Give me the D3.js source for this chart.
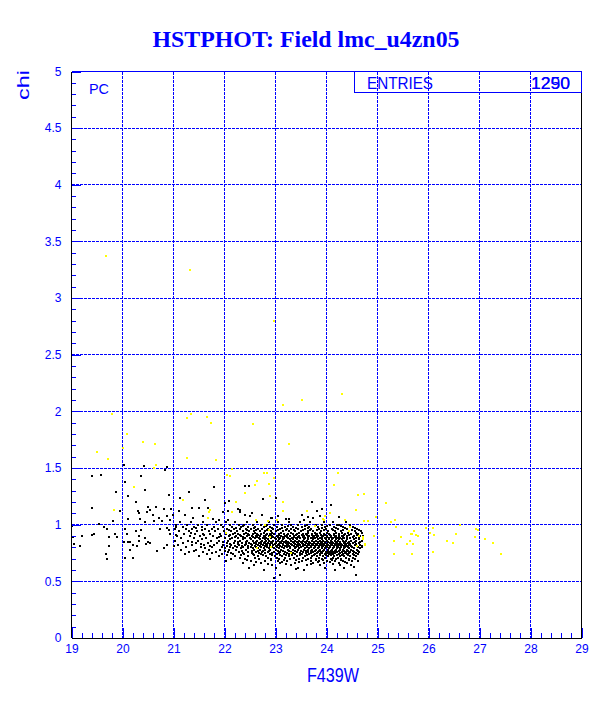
<!DOCTYPE html>
<html><head><meta charset="utf-8">
<script src="https://cdn.jsdelivr.net/npm/d3@7/dist/d3.min.js"></script>
<style>body{margin:0;background:#fff}</style>
</head><body>
<svg id="c" width="612" height="709"></svg>
<script>
// ---------- data ----------
const titleText = "HSTPHOT: Field lmc_u4zn05";
const xTitle = "F439W";
const yTitle = "chi";
const xTicks = [19,20,21,22,23,24,25,26,27,28,29];
const yTicks = [0,0.5,1,1.5,2,2.5,3,3.5,4,4.5,5];
const yTickLabels = ["0","0.5","1","1.5","2","2.5","3","3.5","4","4.5","5"];
const statLabel = "ENTRIES";
const statValues = ["1290","1250"];
const optLabel = "PC";

// sparse black points [F439W, chi]
const blackSparse = [
[20.02,1.53],[20.42,1.52],[20.87,1.51],[20.83,1.48],[19.41,1.43],[19.57,1.44],[20.37,1.43],[20.04,1.38],[20.44,1.31],[19.87,1.29],
[20.11,1.25],[20.91,1.26],[20.27,1.20],[20.50,1.16],[20.66,1.16],[19.40,1.15],[19.96,1.12],[20.30,1.12],[20.32,1.10],[20.48,1.11],
[20.54,1.13],[20.81,1.14],[20.96,1.14],[20.60,1.09],[20.72,1.06],[20.88,1.08],[20.93,1.04],[20.99,1.09],[20.11,1.05],[20.34,1.05],
[19.81,1.03],[19.53,1.01],[20.45,1.02],[20.62,1.03],[20.78,1.03],[19.64,0.98],[19.70,0.96],[19.00,0.99],[20.05,0.96],[20.36,0.95],
[20.26,0.94],[20.73,0.96],[20.87,0.97],[20.91,0.95],[21.04,0.98],[19.85,0.92],[19.45,0.92],[19.40,0.91],[19.73,0.89],[19.90,0.89],
[20.09,0.92],[20.32,0.90],[20.45,0.88],[19.03,0.89],[19.21,0.90],[20.11,0.85],[20.03,0.85],[20.14,0.85],[20.32,0.86],[20.50,0.85],
[20.54,0.84],[20.93,0.92],[21.04,0.91],[19.05,0.83],[19.17,0.81],[19.74,0.81],[20.21,0.82],[20.28,0.81],[20.46,0.83],[20.87,0.82],
[21.01,0.81],[20.15,0.78],[20.68,0.77],[20.81,0.79],[19.68,0.74],[19.70,0.70],[20.05,0.71],[20.20,0.71],
[21.79,1.33],[21.30,1.29],[22.40,1.34],[22.48,1.34],[22.00,1.19],[21.62,1.22],[22.75,1.23],[22.27,1.14],[21.11,1.12],[21.37,1.15],
[21.50,1.15],[21.68,1.15],[21.98,1.11],[22.06,1.12],[22.31,1.11],[22.40,1.09],[22.53,1.10],[22.74,1.09],[22.91,1.06],[21.57,1.08],
[21.22,1.09],[21.39,1.06],[21.78,1.05],[21.89,1.04],[22.07,1.04],[21.12,1.24],[22.08,1.21],[22.30,1.13],[23.91,1.14],[23.27,1.05],
[23.04,1.08],[23.52,1.09],[23.64,1.07],[23.82,1.12],[24.25,1.07],[22.50,1.08],[22.93,1.06],[23.01,1.24],[23.71,1.20],[24.09,1.17],
[23.21,1.05],[23.55,1.04],[23.74,1.06],[23.87,1.08],[24.20,1.00],
[22.97,0.53],[23.09,0.56],[24.58,0.56],[23.41,0.61],[24.53,0.63]
];

// dense black band, read row by row: chi value and the F439W values on that row
const bandChi = [1.02,1.00,0.98,0.96,0.94,0.92,0.90,0.88,0.86,0.84,0.82,0.80,0.78,0.76,0.74,0.72,0.70,0.68,0.66,0.64,0.62,0.60];
const bandF439W = [
[21.12,21.35,21.58,21.84,22.02,22.21,22.44,22.63,22.87,23.05,23.26,23.49,23.68,23.95,24.12,24.38],
[21.05,21.27,21.48,21.66,21.93,22.10,22.28,22.39,22.55,22.71,22.84,22.98,23.12,23.30,23.44,23.61,23.79,23.92,24.06,24.25,24.47],
[21.18,21.41,21.55,21.79,21.97,22.15,22.33,22.46,22.60,22.77,22.90,23.03,23.18,23.35,23.52,23.66,23.83,23.97,24.15,24.33,24.52],
[21.02,21.24,21.37,21.62,21.75,21.88,22.05,22.19,22.30,22.42,22.52,22.66,22.74,22.86,22.95,23.08,23.22,23.31,23.45,23.57,23.70,23.86,23.99,24.10,24.22,24.41,24.60],
[21.10,21.30,21.46,21.69,21.82,21.99,22.12,22.25,22.36,22.49,22.58,22.69,22.80,22.92,23.00,23.14,23.27,23.39,23.50,23.63,23.74,23.90,24.03,24.17,24.28,24.44,24.56,24.68],
[21.21,21.43,21.58,21.71,21.91,22.03,22.16,22.27,22.38,22.47,22.56,22.63,22.72,22.83,22.89,22.97,23.06,23.16,23.24,23.34,23.43,23.54,23.60,23.72,23.81,23.95,24.05,24.14,24.24,24.36,24.49,24.62],
[21.07,21.33,21.52,21.77,21.94,22.08,22.22,22.33,22.44,22.53,22.61,22.70,22.78,22.87,22.94,23.02,23.11,23.19,23.28,23.37,23.47,23.56,23.66,23.76,23.84,23.93,24.01,24.09,24.19,24.30,24.40,24.53,24.65,24.72],
[21.15,21.40,21.63,21.85,22.00,22.14,22.26,22.40,22.50,22.59,22.67,22.76,22.82,22.91,22.99,23.09,23.17,23.25,23.33,23.41,23.49,23.58,23.69,23.78,23.88,23.97,24.04,24.13,24.21,24.27,24.35,24.46,24.58],
[21.03,21.28,21.49,21.73,21.90,22.06,22.20,22.31,22.45,22.55,22.64,22.73,22.81,22.88,22.96,23.04,23.13,23.21,23.30,23.38,23.46,23.53,23.62,23.71,23.80,23.87,23.94,24.00,24.08,24.16,24.23,24.32,24.39,24.48,24.57,24.69],
[21.19,21.45,21.67,21.86,22.04,22.18,22.35,22.48,22.57,22.68,22.77,22.85,22.93,23.01,23.10,23.20,23.26,23.36,23.44,23.51,23.59,23.67,23.75,23.83,23.91,23.98,24.06,24.12,24.20,24.26,24.34,24.43,24.51,24.63],
[21.09,21.36,21.60,21.80,21.98,22.13,22.29,22.41,22.54,22.65,22.75,22.84,22.95,23.05,23.15,23.23,23.32,23.42,23.48,23.57,23.65,23.73,23.82,23.89,23.96,24.02,24.10,24.18,24.25,24.31,24.37,24.45,24.55,24.66],
[21.25,21.53,21.76,21.96,22.11,22.24,22.37,22.51,22.62,22.71,22.83,22.94,23.03,23.12,23.22,23.29,23.40,23.50,23.61,23.70,23.77,23.85,23.92,24.00,24.07,24.14,24.22,24.29,24.36,24.42,24.50,24.61,24.70],
[21.14,21.44,21.70,21.92,22.09,22.23,22.43,22.58,22.69,22.79,22.90,23.00,23.11,23.24,23.35,23.45,23.55,23.64,23.72,23.80,23.88,23.95,24.03,24.11,24.19,24.27,24.33,24.41,24.48,24.59],
[21.31,21.57,21.83,22.07,22.28,22.46,22.61,22.74,22.86,22.98,23.09,23.19,23.31,23.43,23.54,23.63,23.74,23.84,23.90,23.99,24.05,24.13,24.21,24.30,24.38,24.46,24.54,24.64],
[21.22,21.65,21.95,22.17,22.39,22.56,22.72,22.89,23.02,23.16,23.27,23.38,23.52,23.66,23.78,23.87,23.97,24.04,24.12,24.24,24.32,24.40,24.52,24.61],
[21.50,21.89,22.21,22.47,22.66,22.82,22.99,23.13,23.26,23.42,23.58,23.71,23.82,23.93,24.02,24.15,24.26,24.35,24.47,24.57],
[21.72,22.12,22.41,22.68,22.91,23.07,23.29,23.47,23.64,23.79,23.91,24.08,24.18,24.29,24.44,24.55],
[22.03,22.52,22.80,23.04,23.23,23.51,23.69,23.86,24.00,24.17,24.33,24.50,24.62],
[22.36,22.72,23.08,23.39,23.74,23.96,24.24,24.41],
[22.58,22.94,23.30,23.62,23.88,24.27,24.48],
[22.49,23.00,23.44,23.97,24.34],
[22.78,23.55,24.17]
];
// in-between rows of the dense band
const bandChiB = [0.99,0.97,0.95,0.93,0.91,0.89,0.87,0.85,0.83,0.81,0.79,0.77,0.75,0.73,0.71,0.69,0.67,0.65];
const bandF439WB = [
[22.36,22.81,23.24,23.57,24.01,24.29],
[21.45,22.23,22.58,22.93,23.13,23.40,23.63,23.91,24.19,24.36,24.55],
[21.56,22.09,22.44,22.62,22.84,23.05,23.20,23.36,23.53,23.68,23.82,23.96,24.12,24.33,24.50,24.63],
[21.35,22.20,22.42,22.60,22.77,22.93,23.10,23.30,23.47,23.64,23.77,23.88,24.00,24.19,24.31,24.43,24.57,24.70],
[21.60,22.10,22.30,22.49,22.65,22.81,22.91,23.07,23.23,23.40,23.52,23.61,23.71,23.80,23.89,23.98,24.06,24.15,24.25,24.34,24.45,24.59],
[21.90,22.20,22.37,22.55,22.63,22.79,22.95,23.05,23.14,23.22,23.36,23.45,23.53,23.63,23.73,23.82,23.92,24.00,24.08,24.17,24.24,24.33,24.41,24.52,24.64],
[21.55,22.11,22.36,22.52,22.70,22.79,22.86,23.00,23.07,23.15,23.28,23.35,23.43,23.55,23.64,23.74,23.83,23.92,23.99,24.05,24.11,24.18,24.25,24.30,24.41,24.53,24.63],
[21.37,21.98,22.27,22.42,22.61,22.72,22.79,22.91,23.00,23.08,23.17,23.25,23.34,23.42,23.50,23.57,23.66,23.76,23.84,23.90,23.97,24.03,24.10,24.19,24.27,24.36,24.44,24.55,24.66],
[21.54,22.10,22.26,22.43,22.52,22.62,22.72,22.81,22.89,22.99,23.06,23.14,23.24,23.30,23.39,23.46,23.54,23.63,23.71,23.79,23.87,23.94,24.01,24.08,24.16,24.22,24.29,24.39,24.47,24.58],
[21.72,22.05,22.20,22.35,22.47,22.59,22.70,22.80,22.90,23.00,23.09,23.19,23.27,23.37,23.45,23.53,23.61,23.69,23.78,23.86,23.93,23.99,24.06,24.14,24.21,24.28,24.34,24.41,24.49,24.60,24.69],
[21.62,22.01,22.17,22.32,22.46,22.55,22.66,22.77,22.87,22.97,23.07,23.17,23.28,23.38,23.47,23.58,23.66,23.75,23.83,23.91,23.98,24.05,24.13,24.20,24.27,24.35,24.44,24.53,24.65],
[21.40,22.00,22.34,22.53,22.66,22.76,22.88,23.04,23.15,23.27,23.39,23.50,23.59,23.69,23.78,23.86,23.94,24.02,24.09,24.17,24.25,24.34,24.43,24.51,24.62],
[21.76,22.12,22.37,22.54,22.68,22.80,22.93,23.06,23.22,23.35,23.48,23.59,23.70,23.81,23.92,24.01,24.09,24.17,24.27,24.36,24.45,24.57],
[22.05,22.33,22.57,22.76,22.93,23.08,23.21,23.33,23.49,23.62,23.76,23.88,23.99,24.09,24.20,24.30,24.43,24.53],
[22.30,22.60,22.85,23.03,23.19,23.36,23.53,23.69,23.85,23.97,24.12,24.23,24.38,24.51],
[22.45,22.92,23.16,23.41,23.60,23.80,23.94,24.11,24.28,24.45],
[22.62,23.12,23.47,23.83,24.06,24.37],
[22.85,23.20,23.69,24.12]
];

// yellow points [F439W, chi]
const yellowPts = [
[19.67,3.37],[21.33,3.25],[22.98,2.80],[24.31,2.15],[23.51,2.10],[23.14,2.06],[19.79,1.98],[21.27,1.94],[21.35,1.98],[21.66,1.95],
[21.74,1.90],[22.56,1.89],[20.09,1.80],[20.40,1.73],[20.63,1.71],[20.01,1.68],[23.26,1.71],[19.50,1.64],[19.72,1.58],[21.27,1.59],
[21.84,1.57],[20.65,1.53],[20.62,1.50],[22.15,1.49],[22.05,1.44],[22.10,1.43],[22.77,1.46],[22.84,1.46],[22.98,1.41],[24.23,1.46],
[22.64,1.39],[22.59,1.35],[22.88,1.36],[20.23,1.33],[24.14,1.35],[22.41,1.28],[22.90,1.25],[24.61,1.26],[24.74,1.27],[21.19,1.22],
[22.22,1.20],[23.14,1.20],[25.16,1.19],[19.83,1.13],[21.72,1.13],[23.14,1.12],[23.62,1.12],[24.58,1.13],[21.69,1.11],[22.14,1.11],
[23.97,1.08],[21.68,1.06],[22.61,1.04],[22.85,1.03],[24.37,1.04],[24.97,1.07],[24.73,1.03],[24.81,1.03],[25.27,1.02],[25.34,1.04],
[25.37,0.98],[25.96,0.97],[26.08,0.97],[26.61,1.00],[26.94,0.96],[26.98,0.95],[25.72,0.94],[25.68,0.92],[25.80,0.90],[26.03,0.93],
[26.11,0.91],[26.53,0.92],[25.47,0.89],[25.33,0.86],[26.36,0.86],[26.49,0.84],[26.91,0.89],[27.11,0.87],[27.27,0.84],[25.58,0.83],
[25.69,0.83],[27.43,0.74],[25.68,0.74],[25.32,0.74],[26.08,0.76],[24.93,0.90],[24.76,0.83],[24.72,0.89],[24.59,0.81],[24.64,0.90],
[24.47,0.98],[24.44,0.94],[23.96,1.04],[23.78,0.99],[23.30,0.75],[22.63,0.79],[22.88,0.95],[22.03,0.93],
[23.93,1.05],[24.07,1.10],[24.71,0.87],[24.75,0.82],[23.02,1.04],[22.89,0.89],[22.92,0.80],[22.79,1.00],[25.65,0.92],[25.75,0.91],[25.64,0.86]
];

// ---------- drawing ----------
const W = 612, H = 709;
const BLUE = "#0000ff";
const svg = d3.select("#c");
svg.append("rect").attr("width", W).attr("height", H).attr("fill", "#fff");

const x = d3.scaleLinear().domain([19, 29]).range([71.5, 581.5]);
const y = d3.scaleLinear().domain([0, 5]).range([638, 71.5]);

// grid
const grid = svg.append("g").attr("stroke", BLUE).attr("stroke-width", 1)
  .attr("stroke-dasharray", "3,1").attr("shape-rendering", "crispEdges");
grid.selectAll("line.v").data(xTicks.slice(1, -1)).join("line")
  .attr("x1", d => x(d)).attr("x2", d => x(d)).attr("y1", y(5)).attr("y2", y(0));
grid.selectAll("line.h").data(yTicks.slice(1)).join("line")
  .attr("x1", x(19)).attr("x2", x(29)).attr("y1", d => y(d)).attr("y2", d => y(d));

// points
const bandPts = [];
bandChi.forEach((c, i) => bandF439W[i].forEach(f => bandPts.push([f, c])));
bandChiB.forEach((c, i) => bandF439WB[i].forEach(f => bandPts.push([f, c])));
const pts = svg.append("g").attr("shape-rendering", "crispEdges");
pts.selectAll("rect.k").data(blackSparse.concat(bandPts)).join("rect")
  .attr("x", d => x(d[0]) - 1).attr("y", d => y(d[1]) - 1)
  .attr("width", 2).attr("height", 2).attr("fill", "#000");
pts.selectAll("rect.yl").data(yellowPts).join("rect")
  .attr("x", d => x(d[0]) - 1).attr("y", d => y(d[1]) - 1)
  .attr("width", 2).attr("height", 2).attr("fill", "#ffff00");

// axes
const font = "'Liberation Sans', Arial, sans-serif";
function styleAxis(g) {
  g.select(".domain").remove();
  g.selectAll(".tick line").attr("stroke", BLUE).attr("shape-rendering", "crispEdges");
  g.selectAll("text").attr("fill", BLUE).attr("font-family", font).attr("font-size", 12);
}
svg.append("g").attr("transform", `translate(0,${y(0)})`)
  .call(d3.axisBottom(x).tickValues(d3.range(19, 29.001, 0.2)).tickSize(-5).tickSizeOuter(0).tickFormat(""))
  .call(styleAxis);
svg.append("g").attr("transform", `translate(0,${y(0)})`)
  .call(d3.axisBottom(x).tickValues(xTicks).tickSize(-10).tickSizeOuter(0).tickPadding(6).tickFormat(d3.format("d")))
  .call(styleAxis);
svg.append("g").attr("transform", `translate(${x(19)},0)`)
  .call(d3.axisLeft(y).tickValues(d3.range(0, 5.001, 0.1)).tickSize(-4.5).tickSizeOuter(0).tickFormat(""))
  .call(styleAxis);
svg.append("g").attr("transform", `translate(${x(19)},0)`)
  .call(d3.axisLeft(y).tickValues(yTicks).tickSize(-9).tickSizeOuter(0).tickPadding(10).tickFormat((d, i) => yTickLabels[i]))
  .call(styleAxis);

// frame
const fr = svg.append("g").attr("shape-rendering", "crispEdges").attr("stroke-width", 1);
fr.append("line").attr("x1", x(19)).attr("x2", x(29)).attr("y1", y(5)).attr("y2", y(5)).attr("stroke", BLUE);
fr.append("line").attr("x1", x(29)).attr("x2", x(29)).attr("y1", y(5)).attr("y2", y(0)).attr("stroke", "#000");
fr.append("line").attr("x1", x(19)).attr("x2", x(29)).attr("y1", y(0)).attr("y2", y(0)).attr("stroke", "#000");
fr.append("line").attr("x1", x(19)).attr("x2", x(19)).attr("y1", y(5)).attr("y2", y(0)).attr("stroke", "#000");

// stats box
svg.append("rect").attr("x", 354.5).attr("y", y(5)).attr("width", x(29) - 354.5).attr("height", 21)
  .attr("fill", "none").attr("stroke", BLUE).attr("shape-rendering", "crispEdges");
svg.append("text").attr("x", 367).attr("y", 89).text(statLabel)
  .attr("fill", BLUE).attr("font-family", font).attr("font-size", 17)
  .attr("textLength", 66).attr("lengthAdjust", "spacingAndGlyphs");
statValues.forEach(v => svg.append("text").attr("x", 531).attr("y", 89).text(v)
  .attr("fill", BLUE).attr("font-family", font).attr("font-size", 17)
  .attr("textLength", 39).attr("lengthAdjust", "spacingAndGlyphs"));

// PC label
svg.append("text").attr("x", 89).attr("y", 94).text(optLabel)
  .attr("fill", BLUE).attr("font-family", font).attr("font-size", 15)
  .attr("textLength", 20).attr("lengthAdjust", "spacingAndGlyphs");

// titles
svg.append("text").attr("x", 306).attr("y", 47).attr("text-anchor", "middle").text(titleText)
  .attr("fill", BLUE).attr("font-family", "'Liberation Serif','Times New Roman',serif")
  .attr("font-weight", "bold").attr("font-size", 23.5)
  .attr("textLength", 307).attr("lengthAdjust", "spacingAndGlyphs");
svg.append("text").attr("x", 307).attr("y", 682).text(xTitle)
  .attr("fill", BLUE).attr("font-family", font).attr("font-size", 20)
  .attr("textLength", 52).attr("lengthAdjust", "spacingAndGlyphs");
svg.append("text").attr("transform", "translate(29,70) rotate(-90)").attr("text-anchor", "end").text(yTitle)
  .attr("fill", BLUE).attr("font-family", font).attr("font-size", 17)
  .attr("textLength", 30).attr("lengthAdjust", "spacingAndGlyphs");
</script>
</body></html>
